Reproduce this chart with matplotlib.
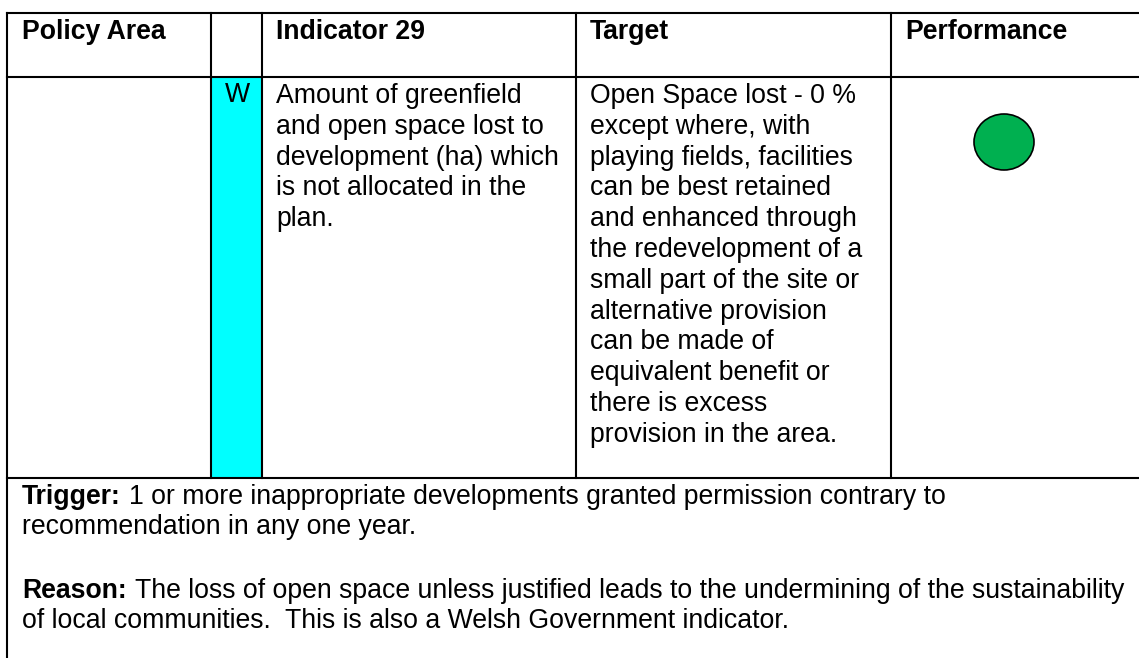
import matplotlib
matplotlib.use("Agg")
import matplotlib.pyplot as plt
from matplotlib.patches import Rectangle, Ellipse

# ---- content ----
headers = ["Policy Area", "", "Indicator 29", "Target", "Performance"]
marker_letter = "W"
indicator_lines = [
    "Amount of greenfield",
    "and open space lost to",
    "development (ha) which",
    "is not allocated in the",
    "plan.",
]
target_lines = [
    "Open Space lost - 0 %",
    "except where, with",
    "playing fields, facilities",
    "can be best retained",
    "and enhanced through",
    "the redevelopment of a",
    "small part of the site or",
    "alternative provision",
    "can be made of",
    "equivalent benefit or",
    "there is excess",
    "provision in the area.",
]
performance_status = "green"
notes = [
    ("Trigger:", ["1 or more inappropriate developments granted permission contrary to",
                  "recommendation in any one year."]),
    ("Reason:", ["The loss of open space unless justified leads to the undermining of the sustainability",
                 "of local communities.  This is also a Welsh Government indicator."]),
]

# ---- layout / style ----
W, H = 1139, 658
FONT = "Liberation Sans"
FS = 19.2
LW = 1.5
status_colors = {"green": "#00B050"}

fig = plt.figure(figsize=(W / 100, H / 100), dpi=100)
ax = fig.add_axes([0, 0, 1, 1])
ax.set_xlim(0, W)
ax.set_ylim(H, 0)
ax.axis("off")

col_x = [7, 211, 262, 576, 891]
top, head_bot, body_bot = 13, 77, 478

# cyan marker column
ax.add_patch(Rectangle((col_x[1], head_bot), col_x[2] - col_x[1], body_bot - head_bot,
                       facecolor="#00FFFF", edgecolor="none", zorder=1))

# grid lines
ax.plot([col_x[0], W], [top, top], color="black", lw=LW, zorder=3, solid_capstyle="projecting")
ax.plot([col_x[0], W], [head_bot, head_bot], color="black", lw=LW, zorder=3)
ax.plot([col_x[0], W], [body_bot, body_bot], color="black", lw=LW, zorder=3)
ax.plot([col_x[0], col_x[0]], [top, H], color="black", lw=LW, zorder=3)
for x in col_x[1:]:
    ax.plot([x, x], [top, body_bot], color="black", lw=LW, zorder=3)

# header text
head_x = [22, None, 276, 590, 905]
for hx, txt in zip(head_x, headers):
    if hx is not None and txt:
        ax.text(hx, 39, txt, fontsize=FS, fontweight="bold", family=FONT,
                va="baseline", ha="left", zorder=4)

# body
ax.text(237, 102, marker_letter, fontsize=FS, family=FONT, va="baseline", ha="center", zorder=4)
step = 30.8
for i, ln in enumerate(indicator_lines):
    ax.text(276, 103 + i * step, ln, fontsize=FS, family=FONT, va="baseline", ha="left", zorder=4)
for i, ln in enumerate(target_lines):
    ax.text(590, 103 + i * step, ln, fontsize=FS, family=FONT, va="baseline", ha="left", zorder=4)

ax.add_patch(Ellipse((1004, 142), 60, 56, facecolor=status_colors[performance_status],
                     edgecolor="black", lw=1.2, zorder=4))

# notes
fig.canvas.draw()
renderer = fig.canvas.get_renderer()
inv = ax.transData.inverted()
note_base = [504, 598]
for (label, lines), yb in zip(notes, note_base):
    t = ax.text(22, yb, label, fontsize=FS, fontweight="bold", family=FONT,
                va="baseline", ha="left", zorder=4)
    bb = t.get_window_extent(renderer)
    x_end = inv.transform((bb.x1, bb.y0))[0]
    ax.text(x_end + 8, yb, lines[0], fontsize=FS, family=FONT, va="baseline", ha="left", zorder=4)
    for j, ln in enumerate(lines[1:], start=1):
        ax.text(22, yb + j * 30, ln, fontsize=FS, family=FONT, va="baseline", ha="left", zorder=4)

fig.savefig("out.png", dpi=100, facecolor="white")
